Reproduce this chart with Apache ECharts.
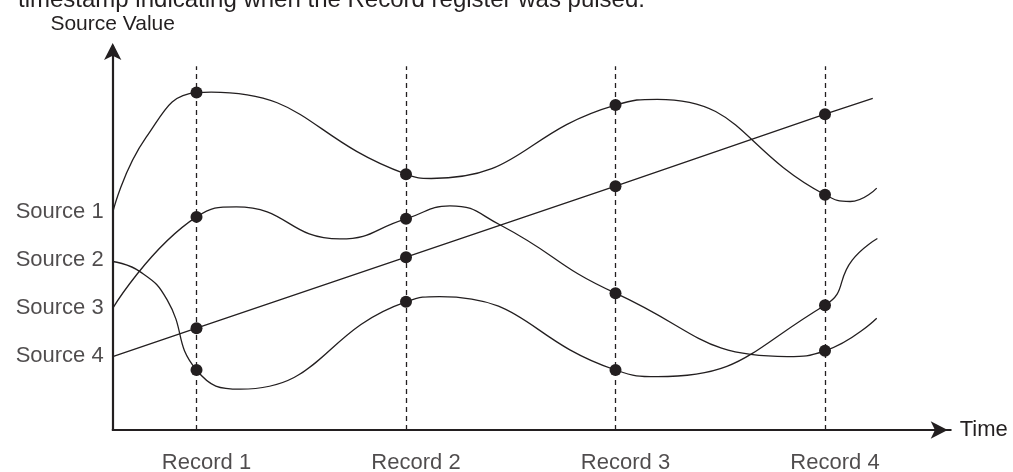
<!DOCTYPE html>
<html>
<head>
<meta charset="utf-8">
<script src="https://cdn.jsdelivr.net/npm/echarts@6/dist/echarts.min.js"></script>
<style>
  html, body { margin: 0; padding: 0; background: #fff; }
  #chart { width: 1013px; height: 472px; }
</style>
</head>
<body>
<div id="chart"></div>
<script>
// records along the time axis
const recordNames = ['Record 1', 'Record 2', 'Record 3', 'Record 4'];
const recordTimes = [1, 2, 3, 4];
const dashTop = 7.58;

// starting levels of the sources (left labels)
const sourceNames = ['Source 1', 'Source 2', 'Source 3', 'Source 4'];
const sourceLevels = [4.55, 3.55, 2.55, 1.55];

// [time, value] points (ends, record samples, turning points)
const source1 = [[0.6, 4.53], [0.76, 6.1], [1, 7.03], [1.07, 7.04], [2, 5.33], [2.12, 5.24],
  [3, 6.77], [3.2, 6.89], [4, 4.9], [4.12, 4.76], [4.247, 5.04]];
const source2 = [[0.6, 3.51], [0.73, 3.3], [0.86, 2.71], [1, 1.25], [1.21, 0.85],
  [2, 2.67], [2.16, 2.78], [3, 1.25], [3.2, 1.11], [4, 2.6], [4.13, 3.54], [4.25, 3.99]];
const source3 = [[0.6, 2.535], [1, 4.44], [1.19, 4.65], [1.685, 3.98], [2, 4.4], [2.21, 4.67],
  [2.45, 4.27], [3, 2.85], [3.82, 1.53], [4, 1.65], [4.247, 2.33]];
const source4 = [[0.6, 1.53], [1, 2.12], [2, 3.6], [3, 5.08], [4, 6.58], [4.228, 6.91]];

const ink = '#231f20';
const font = 'Liberation Sans, Arial, sans-serif';

function isRecord(t) {
  return recordTimes.some(r => Math.abs(r - t) < 1e-6);
}

function curve(name, data, smooth) {
  return {
    name: name,
    type: 'line',
    data: data,
    smooth: smooth,
    showAllSymbol: true,
    symbol: v => isRecord(v[0]) ? 'circle' : 'none',
    symbolSize: 12,
    itemStyle: { color: ink },
    lineStyle: { color: ink, width: 1.3 },
    z: 3
  };
}

let myChart = echarts.init(document.getElementById('chart'));
myChart.setOption({
  animation: false,
  title: {
    text: 'timestamp indicating when the Record register was pulsed.',
    left: 13,
    top: -17,
    textStyle: { fontFamily: font, fontSize: 24, fontWeight: 'normal', color: ink }
  },
  grid: { left: 112.7, right: 62.3, top: 46, bottom: 42 },
  xAxis: {
    type: 'value',
    min: 0.6,
    max: 4.6,
    name: 'Time',
    nameLocation: 'end',
    nameGap: 9,
    nameTextStyle: { fontFamily: font, fontSize: 22, color: ink },
    axisLine: { lineStyle: { color: ink, width: 2.2 }, symbol: ['none', 'arrow'], symbolSize: [13, 17], symbolOffset: [0, -3] },
    axisTick: { show: false },
    axisLabel: { show: false },
    splitLine: { show: false }
  },
  yAxis: {
    type: 'value',
    min: 0,
    max: 8,
    name: 'Source Value',
    nameLocation: 'end',
    nameGap: 11,
    nameTextStyle: { fontFamily: font, fontSize: 21, color: ink, align: 'center' },
    axisLine: { lineStyle: { color: ink, width: 2.2 }, symbol: ['none', 'arrow'], symbolSize: [13, 17], symbolOffset: [0, 3] },
    axisTick: { show: false },
    axisLabel: { show: false },
    splitLine: { show: false }
  },
  series: [
    {
      // record markers: dashed guides and labels under the axis
      type: 'scatter',
      data: recordTimes.map(t => [t, 0]),
      symbolSize: 0,
      silent: true,
      label: {
        show: true,
        position: 'bottom',
        distance: 22,
        offset: [10, 0],
        formatter: p => recordNames[p.dataIndex],
        fontFamily: font, fontSize: 22, color: ink
      },
      markLine: {
        silent: true,
        symbol: ['none', 'none'],
        label: { show: false },
        lineStyle: { color: ink, width: 1.3, type: [5, 4] },
        data: recordTimes.map(t => [{ coord: [t, 0] }, { coord: [t, dashTop] }])
      },
      z: 1
    },
    {
      // source names left of the value axis
      type: 'scatter',
      data: sourceLevels.map(v => [0.6, v]),
      symbolSize: 0,
      silent: true,
      label: {
        show: true,
        position: 'left',
        distance: 9,
        formatter: p => sourceNames[p.dataIndex],
        fontFamily: font, fontSize: 22, color: ink
      }
    },
    curve('Source 1', source1, 0.5),
    curve('Source 2', source2, 0.5),
    curve('Source 3', source3, 0.5),
    curve('Source 4', source4, false)
  ]
});
</script>
</body>
</html>
